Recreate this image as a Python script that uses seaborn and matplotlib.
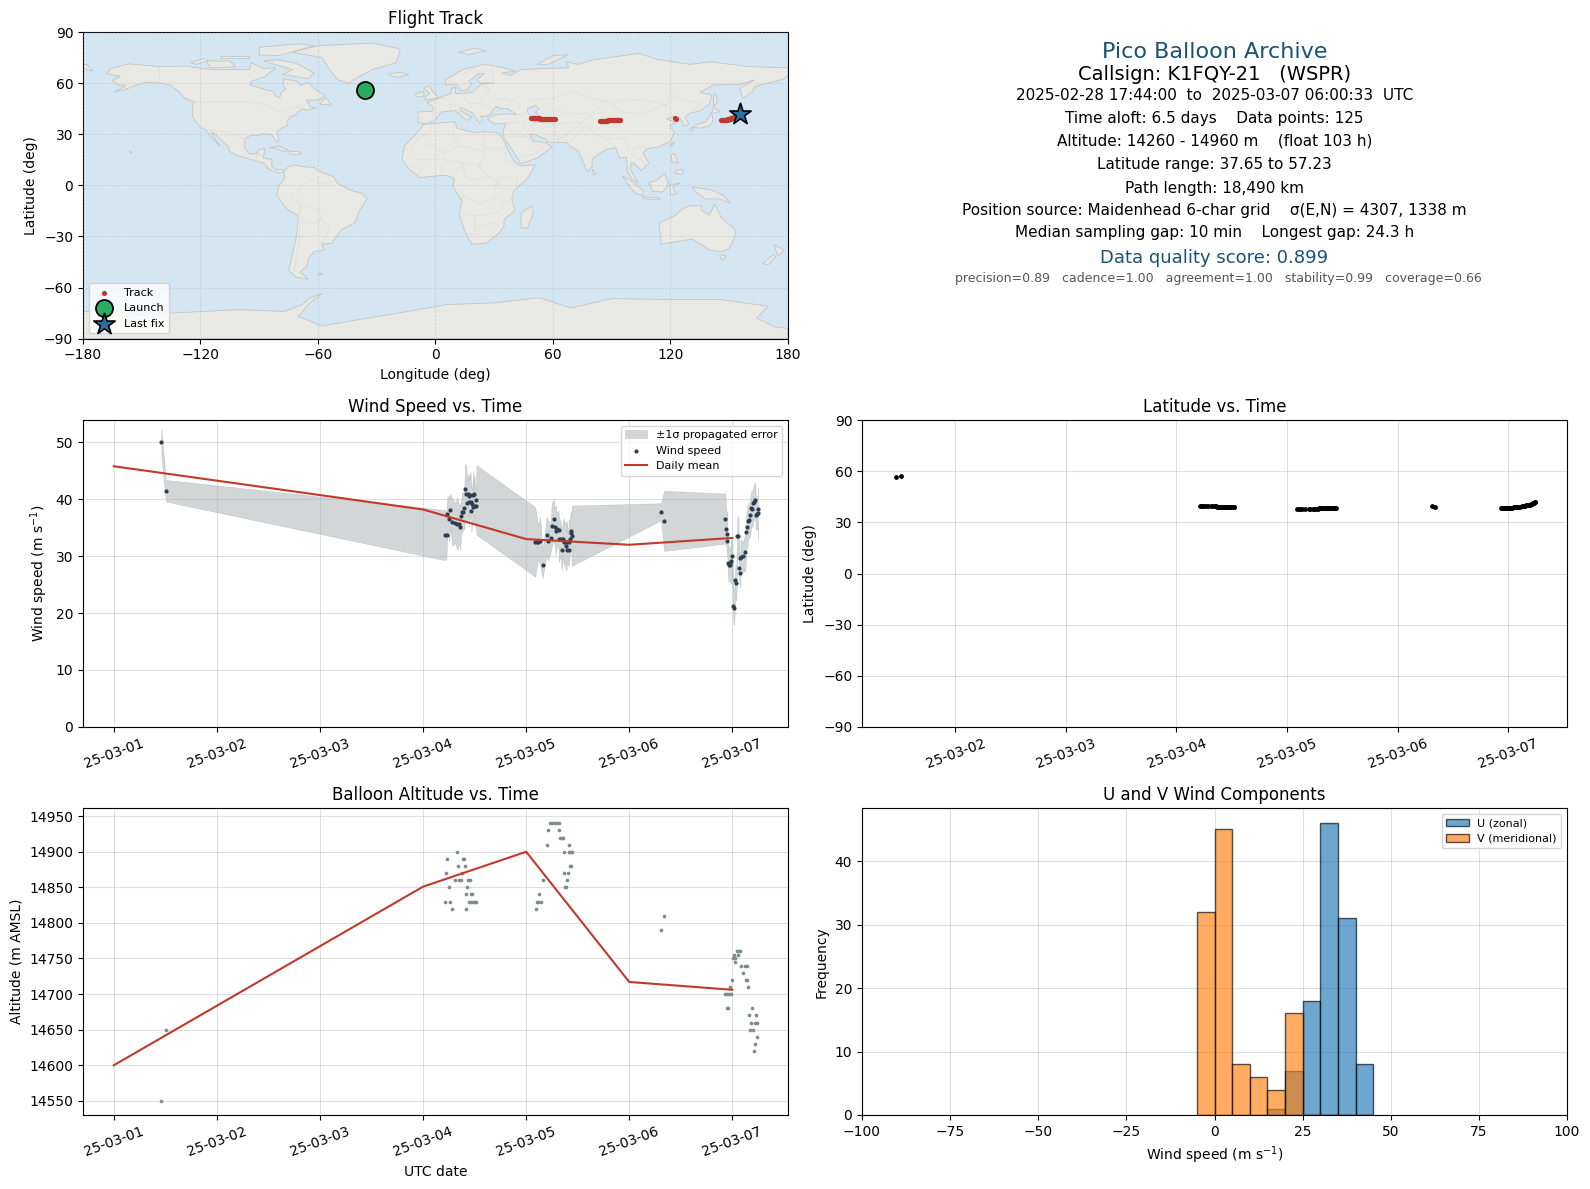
import numpy as np
import pandas as pd
import matplotlib
matplotlib.use("Agg")
import matplotlib.pyplot as plt
import matplotlib.dates as mdates
import seaborn as sns

# days after 2025-03-01 00:00
wind_day = [0.460, 0.505,
            3.211, 3.227, 3.234, 3.253, 3.263, 3.282, 3.312, 3.331, 3.351, 3.360,
            3.370, 3.380, 3.390, 3.399, 3.409, 3.419, 3.429, 3.438, 3.448, 3.448,
            3.458, 3.468, 3.468, 3.477, 3.487, 3.487, 3.497, 3.506, 3.516, 3.516,
            4.088, 4.107, 4.117, 4.136, 4.159, 4.198, 4.208, 4.237, 4.247, 4.266,
            4.276, 4.286, 4.295, 4.315, 4.315, 4.334, 4.344, 4.354, 4.364, 4.373,
            4.383, 4.393, 4.393, 4.412, 4.412, 4.422, 4.432, 4.438, 4.442,
            5.308, 5.338,
            5.932, 5.942, 5.951, 5.951, 5.961, 5.971, 5.981, 5.981, 5.990, 6.000,
            6.010, 6.019, 6.029, 6.039, 6.049, 6.058, 6.068, 6.078, 6.078, 6.088,
            6.107, 6.127, 6.136, 6.146, 6.156, 6.166, 6.175, 6.185, 6.195, 6.205,
            6.214, 6.224, 6.227, 6.237, 6.247, 6.247]
wind_speed = [50.0, 41.5,
              33.7, 33.7, 37.4, 36.6, 38.1, 36.0, 35.8, 35.7, 35.6, 35.1,
              37.1, 37.8, 37.8, 38.5, 41.8, 41.0, 39.4, 40.9, 39.5, 40.5,
              40.7, 39.5, 38.0, 39.1, 40.7, 38.7, 40.9, 38.8, 38.8, 39.9,
              32.5, 32.5, 32.4, 32.7, 28.5, 33.7, 32.7, 33.2, 35.3, 36.5,
              35.1, 34.5, 34.8, 34.6, 33.0, 33.0, 31.1, 33.0, 32.5, 32.5,
              31.8, 31.1, 32.5, 31.1, 32.5, 33.0, 34.5, 34.0, 33.6,
              37.8, 36.2,
              36.6, 34.8, 33.9, 32.7, 28.8, 28.4, 28.8, 28.5, 29.1, 30.0,
              21.2, 20.9, 25.8, 25.3, 33.6, 33.6, 28.0, 27.1, 29.7, 29.8,
              30.0, 30.8, 34.3, 35.2, 36.2, 36.3, 37.3, 38.5, 38.3, 39.3,
              39.6, 39.9, 37.3, 37.4, 38.3, 37.5]
wind_sigma = [2.4, 1.9,
              4.4, 4.2, 3.0, 4.0, 2.8, 4.2, 3.5, 4.6, 3.2, 4.0,
              3.0, 3.6, 3.0, 3.8, 4.4, 4.8, 3.4, 3.6, 4.2, 3.0,
              4.2, 3.4, 3.8, 3.0, 4.4, 3.2, 3.6, 3.8, 3.0, 6.1,
              6.1, 4.0, 3.0, 4.2, 2.4, 3.2, 3.6, 2.6, 3.8, 3.6,
              3.2, 4.4, 2.8, 3.4, 4.0, 3.0, 3.8, 2.6, 4.2, 3.0,
              4.4, 3.2, 3.6, 2.8, 4.0, 3.0, 3.4, 3.0, 5.3,
              1.5, 5.3,
              4.4, 3.0, 4.0, 2.6, 3.4, 2.6, 2.8, 3.0, 4.0, 2.6,
              3.0, 3.0, 2.6, 3.2, 3.6, 3.0, 2.8, 2.6, 3.2, 3.0,
              2.6, 3.4, 3.0, 3.6, 3.2, 3.0, 3.4, 3.0, 3.2, 3.0,
              3.2, 3.0, 2.6, 2.8, 2.6, 4.5]
track_lat = [56.6, 57.2,
             39.6, 39.6, 39.5, 39.5, 39.5, 39.5, 39.5, 39.4, 39.4, 39.4,
             39.3, 39.2, 39.2, 39.1, 39.0, 39.0, 39.0, 38.9, 38.9, 38.8,
             38.8, 38.8, 38.8, 38.8, 38.8, 38.8, 38.8, 38.8, 38.9, 38.9,
             37.7, 37.7, 37.7, 37.7, 37.8, 37.8, 37.7, 37.8, 37.9, 38.0,
             38.1, 38.2, 38.2, 38.2, 38.3, 38.3, 38.3, 38.3, 38.3, 38.3,
             38.3, 38.3, 38.3, 38.3, 38.3, 38.3, 38.3, 38.3, 38.3,
             39.6, 38.9,
             38.2, 38.2, 38.2, 38.2, 38.3, 38.3, 38.3, 38.3, 38.4, 38.4,
             38.5, 38.5, 38.6, 38.7, 38.8, 38.9, 39.0, 39.0, 39.1, 39.2,
             39.3, 39.4, 39.5, 39.7, 39.8, 40.0, 40.1, 40.3, 40.5, 40.7,
             40.9, 41.1, 41.3, 41.5, 41.7, 41.9]
track_lon = [-36.2, -35.7,
             49.0, 49.4, 49.8, 50.2, 50.6, 51.0, 51.4, 51.8, 52.2, 52.6,
             53.0, 53.4, 53.8, 54.2, 54.6, 55.0, 55.4, 55.8, 56.2, 56.6,
             57.0, 57.4, 57.8, 58.2, 58.6, 59.0, 59.4, 59.8, 60.4, 61.0,
             84.0, 84.4, 84.8, 85.2, 85.6, 86.0, 86.4, 86.8, 87.2, 87.6,
             88.0, 88.4, 88.8, 89.2, 89.6, 90.0, 90.4, 90.8, 91.2, 91.6,
             92.0, 92.3, 92.6, 92.9, 93.2, 93.4, 93.6, 93.8, 94.0,
             122.3, 123.0,
             146.0, 146.3, 146.6, 146.9, 147.1, 147.4, 147.6, 147.9, 148.1, 148.4,
             148.6, 148.9, 149.1, 149.4, 149.6, 149.9, 150.1, 150.4, 150.6, 150.9,
             151.1, 151.4, 151.6, 151.9, 152.1, 152.4, 152.6, 152.9, 153.1, 153.4,
             153.6, 153.9, 154.2, 154.6, 155.0, 155.3]

launch_lon, launch_lat = [-36.0], [56.1]
last_lon, last_lat = [155.3], [41.9]

mean_day = [0, 3, 4, 5, 6]
mean_wind = [45.8, 38.2, 33.0, 32.0, 33.2]
mean_alt = [14600, 14851, 14900, 14717, 14706]

alt_day = [0.460, 0.505,
           3.214, 3.224, 3.234, 3.253, 3.263, 3.282, 3.312, 3.331, 3.341, 3.351,
           3.370, 3.380, 3.390, 3.399, 3.409, 3.419, 3.419, 3.429, 3.438, 3.448,
           3.458, 3.468, 3.468, 3.477, 3.487, 3.506, 3.516,
           4.091, 4.101, 4.110, 4.120, 4.140, 4.159, 4.198, 4.208, 4.227, 4.247,
           4.276, 4.295, 4.315, 4.315, 4.325, 4.344, 4.354, 4.364, 4.364, 4.373,
           4.383, 4.393, 4.403, 4.412, 4.412, 4.422, 4.432, 4.432, 4.442,
           5.308, 5.338,
           5.932, 5.951, 5.951, 5.961, 5.971, 5.981, 5.990, 6.000, 6.010, 6.019,
           6.029, 6.029, 6.049, 6.058, 6.068, 6.078, 6.088, 6.107, 6.127, 6.136,
           6.146, 6.146, 6.156, 6.166, 6.175, 6.185, 6.195, 6.205, 6.214, 6.224,
           6.224, 6.234, 6.244, 6.244]
alt_m = [14550, 14650,
         14830, 14870, 14890, 14850, 14830, 14820, 14860, 14900, 14880, 14860,
         14860, 14870, 14890, 14890, 14880, 14840, 14820, 14850, 14860, 14830,
         14860, 14840, 14830, 14840, 14830, 14830, 14830,
         14820, 14830, 14830, 14840, 14830, 14860, 14910, 14930, 14940, 14940,
         14940, 14940, 14940, 14930, 14920, 14920, 14920, 14900, 14870, 14850,
         14850, 14860, 14870, 14910, 14900, 14880, 14900, 14880, 14900,
         14790, 14810,
         14700, 14700, 14680, 14680, 14700, 14710, 14700, 14720, 14750, 14755,
         14745, 14750, 14760, 14755, 14760, 14760, 14740, 14730, 14740, 14720,
         14720, 14740, 14710, 14670, 14650, 14660, 14680, 14650, 14620, 14660,
         14630, 14670, 14660, 14640]

hist_edges = [-5, 0, 5, 10, 15, 20, 25, 30, 35, 40, 45]
u_counts = [0, 0, 0, 0, 1, 7, 18, 46, 31, 8]
v_counts = [32, 45, 8, 6, 4, 16, 0, 0, 0, 0]

# rough hand traced coastlines (lon, lat)
north_america = [(-168, 65.5), (-166, 68.5), (-156.5, 71.3), (-141, 69.7), (-128, 70), (-115, 68), (-108, 68),
                 (-95, 68), (-94, 72), (-88, 68.5), (-81.5, 69), (-87, 64), (-94, 61), (-94.5, 58.8), (-88, 56.5),
                 (-82.5, 55), (-82, 52.5), (-79.5, 51.3), (-79, 54.5), (-76.5, 56.5), (-78, 59), (-77.5, 62.5),
                 (-71, 61.2), (-69, 58.8), (-65, 60.3), (-61, 56), (-56, 52.5), (-60, 50), (-66, 50), (-65, 48.5),
                 (-64, 46), (-61, 45.5), (-66, 44), (-67, 45), (-70, 43.5), (-70.5, 41.8), (-74, 40.5), (-76, 37),
                 (-75.5, 35.3), (-78, 33.9), (-81, 31.5), (-80, 26.5), (-81, 25.2), (-82.7, 28), (-84, 30),
                 (-89, 30.2), (-90, 29.2), (-94, 29.5), (-97.3, 27.5), (-97.7, 22.5), (-95, 18.5), (-91, 18.6),
                 (-90.4, 21), (-87, 21.5), (-88, 16), (-83.5, 15.2), (-83.6, 11), (-81, 8.8), (-79, 9.5), (-77.3, 8.5),
                 (-78, 7.4), (-80.5, 7.3), (-83, 8.2), (-85.7, 10), (-87.5, 13), (-92, 14.5), (-96, 15.8), (-101, 17.5),
                 (-105.5, 20), (-105.5, 22.5), (-109, 26), (-112.5, 30), (-114.7, 31.5), (-112.5, 27), (-109.8, 23),
                 (-112, 25), (-115, 29), (-117.2, 32.5), (-120.5, 34.5), (-124, 40), (-124, 47), (-123, 49), (-128, 51),
                 (-131, 55), (-135, 58.5), (-140, 60), (-148, 60.5), (-152, 59), (-158, 56.5), (-164, 54.7),
                 (-158, 58.5), (-162, 59), (-165, 61.5), (-161, 64)]
south_america = [(-77.3, 8.5), (-75, 11), (-72, 12), (-68, 11), (-62, 10.5), (-60, 8.5), (-52, 5), (-50, 1), (-44, -2.5),
                 (-37, -5), (-35, -8), (-39, -15), (-41, -22), (-48, -26), (-53, -34), (-58, -34.5), (-57, -38),
                 (-62, -39), (-65, -43), (-65.5, -47), (-69, -51), (-65, -55), (-71, -54), (-75, -50), (-73, -40),
                 (-71, -30), (-70, -18), (-76, -14), (-81, -6), (-80, 0), (-77, 4), (-77.5, 7.5)]
greenland = [(-73, 78), (-60, 82), (-32, 83.5), (-18, 80), (-20, 72), (-32, 68), (-42, 62), (-44, 59.8), (-50, 62),
             (-54, 68), (-58, 75)]
eurasia = [(-9, 37), (-9, 43), (-1.5, 43.5), (-1, 46), (-4.5, 48.5), (1.5, 51), (8, 54), (8, 57), (10.5, 57.5), (10, 54),
           (14, 54), (19, 54.5), (21, 57), (24, 59.5), (30, 60), (23, 60), (21, 62), (25, 65.5), (22, 65.5), (17, 61),
           (18.5, 59.5), (16, 56), (13, 55.5), (11, 59), (5, 59), (5, 62), (14, 68), (25, 71), (33, 69.5), (41, 67),
           (34, 66), (38, 64.5), (44, 68), (54, 68.5), (68, 69), (67, 72.5), (73, 71), (80, 73.5), (104, 77.5), (113, 74),
           (130, 71), (140, 72.5), (160, 69.7), (180, 69), (180, 65), (178, 62.5), (170, 60), (163, 58), (162, 55),
           (156.7, 51), (155.5, 57), (163, 62), (155, 59.2), (142, 59), (135, 54.5), (141, 53), (140, 48), (135, 43.5),
           (130, 42.5), (127.5, 39.8), (129.5, 36), (126.5, 34.5), (126, 37.5), (124.5, 40), (121.5, 39), (122, 40.7),
           (118, 39), (122.5, 37), (119.5, 35), (122, 31), (120, 26), (114, 22.5), (108, 21.5), (106, 19), (109, 13),
           (105, 8.7), (102, 12.5), (100, 13.5), (99.5, 9.5), (103.5, 1.5), (100.5, 3.5), (98, 8), (97.5, 16.5), (94, 16),
           (92, 22), (87, 21), (80, 15.5), (80, 11), (77.5, 8), (73, 20), (69, 22.5), (67, 25), (57, 25.5), (56.5, 27),
           (50, 30), (48, 30), (50, 26), (56, 25), (59.5, 22.5), (52, 16), (43.5, 12.7), (39, 21), (35, 28), (34.5, 31.5),
           (36, 36.5), (30, 36), (26.5, 39), (29, 41), (35, 42), (41.5, 41.5), (37, 45), (33, 45), (31, 46.5), (28, 42),
           (26, 40.5), (23, 40.5), (24, 38), (22.5, 36.5), (19.5, 41), (19, 42.5), (13, 45.7), (12.5, 44), (18.5, 40),
           (16, 38), (10, 44), (3, 43), (-0.5, 38), (-5, 36)]
africa = [(-6, 35.8), (10, 37.3), (11, 33.5), (20, 31), (25, 31.5), (32, 31), (34, 28), (37, 21), (39.5, 15), (43.3, 11.5),
          (51, 12), (47, 4), (40, -3), (39, -8), (40.5, -15), (35, -20), (35, -24), (32.5, -28), (26, -34), (18.5, -34.5),
          (15, -27), (12, -17), (13.5, -9), (9, -1), (9.5, 4), (5, 6), (-4, 5), (-8, 4.5), (-13, 9), (-17, 14.7), (-16, 23),
          (-10, 30)]
australia = [(114, -22), (122, -18), (126, -14), (130, -12), (136, -12), (136, -15), (140, -17.5), (142.5, -11), (146, -19),
             (153, -26), (153, -30), (150, -37), (146, -39), (140, -38), (136, -35), (131, -31.5), (124, -33), (115, -34.5),
             (115, -31)]
antarctica = [(-180, -74), (-150, -76), (-118, -74), (-100, -73), (-77, -74), (-68, -70), (-64, -66), (-58, -63.5),
              (-65, -70), (-70, -77), (-58, -82.6), (-35, -78), (-19, -75), (6, -70), (30, -69), (53, -66), (69, -72),
              (90, -66.5), (116, -67), (145, -67), (170, -71), (164, -78), (173, -83), (180, -84), (180, -90), (-180, -90)]
islands = [
    [(-5.5, 50), (1.5, 51.5), (0, 53.5), (-2, 56), (-3, 58.5), (-6, 57), (-3, 54), (-5, 52)],
    [(-10, 52), (-6, 52), (-6, 55), (-10, 54)],
    [(-24, 65.5), (-18, 66.3), (-13.5, 65), (-19, 63.5), (-22.5, 64)],
    [(44, -16), (49.5, -12), (50, -16), (47, -25), (44, -25), (43.5, -21)],
    [(130, 31.5), (131.8, 33), (130.8, 34), (129.8, 33)],
    [(131, 34), (135.5, 33.6), (140, 35), (141.5, 37), (141.5, 41), (140, 41), (138, 37.2), (133, 35.5)],
    [(140.5, 42), (145.5, 43.5), (142, 45.5), (141.5, 43.5)],
    [(142, 46), (144, 49), (143, 54), (142, 53), (142, 49)],
    [(120.5, 23), (122, 25), (121, 25), (120, 23.5)],
    [(120.5, 14), (124, 13), (122, 18.5), (120.5, 18)],
    [(122, 7), (126, 6.5), (126.5, 9.5), (123.5, 9)],
    [(95.5, 5.5), (100, 2.5), (106, -3), (106, -6), (102, -4.5), (98, 1)],
    [(105.5, -6.5), (114.5, -7.5), (114.5, -8.6), (106, -7.8)],
    [(109, 1.5), (113, 3), (117, 7), (119, 1), (116, -4), (111, -3.5)],
    [(119.5, 0), (125, 1.5), (121, -1), (123, -5), (120, -5.5)],
    [(131, -1), (141, -2.7), (147, -6), (150.5, -10.5), (145, -8), (138, -8), (133, -4)],
    [(173, -35), (178, -38), (175, -41.5), (174, -39)],
    [(172.5, -41), (174, -42), (170, -46.5), (167, -46), (170, -43)],
    [(145, -41), (148.2, -41), (147.5, -43.5), (146, -43.5)],
    [(80, 9.5), (82, 7), (80.5, 6)],
    [(-85, 22), (-80, 23), (-74.5, 20.3), (-78, 20), (-82, 22)],
    [(-74.5, 19.8), (-70, 19.8), (-68.5, 18.5), (-72, 18), (-74.5, 18.3)],
    [(-59, 47.7), (-56, 51.5), (-53, 47)],
    [(-80, 73.7), (-71, 71.5), (-62, 66), (-65, 62.5), (-72, 64), (-78, 65), (-73, 68), (-88, 73)],
    [(-117, 73), (-105, 73), (-102, 69.5), (-115, 69)],
    [(-125, 72), (-118, 74.5), (-116, 73.3), (-122, 71)],
    [(-90, 76.5), (-80, 76.2), (-62, 82), (-70, 83), (-90, 81)],
    [(-110, 76), (-95, 76), (-95, 74.5), (-110, 74.5)],
    [(12, 78), (20, 80.5), (26, 79), (17, 76.8)],
    [(52, 71), (57, 70.7), (68, 76.8), (60, 76)],
    [(-60, -51.5), (-58, -51.5), (-58, -52.3), (-60, -52.3)],
    [(-156, 20), (-155, 19.5), (-155.5, 19), (-156, 19.3)],
    [(-178, 71), (-180, 71), (-180, 68.5), (-175, 67)],
]
caspian = [(47, 45), (51, 47), (53, 45), (51, 43), (53.5, 40), (54, 37), (50, 37), (49, 40), (47, 43)]
border_lines = [
    [(-123, 49), (-95, 49), (-89, 48), (-82, 45), (-79, 43), (-75, 45), (-70, 46), (-67, 45)],
    [(-141, 60), (-141, 69.7)],
    [(-117, 32.5), (-106, 31.5), (-101, 29.5), (-97.3, 26)],
    [(-92, 14.5), (-91, 17.8), (-88, 18)],
    [(-70, -18), (-69, -11), (-74, -7), (-70, -4), (-67, 1.5), (-60, 5), (-60, 1), (-52, 2)],
    [(-69, -22), (-70, -35), (-72, -50), (-68.5, -52)],
    [(-58, -20), (-62, -22), (-66, -22), (-69, -18), (-69, -11), (-60, -14), (-58, -20)],
    [(-58, -34), (-54, -26), (-58, -20)],
    [(-9, 42), (-7, 37)], [(-1.5, 43), (3, 42.5)], [(3, 51), (8, 49), (7.5, 44)], [(14, 54), (15, 51), (17, 48), (22, 48), (29, 45.5)],
    [(24, 59.5), (28, 56), (24, 51), (22, 48)], [(28, 70), (30, 62), (28, 60)], [(14, 65), (20, 69)],
    [(30, 51), (40, 50), (37, 47)], [(48, 42), (41.5, 41.5)], [(47, 50), (60, 51), (70, 55), (80, 51), (87, 49.5)],
    [(87, 49.5), (98, 50), (108, 50), (118, 47), (120, 53), (127, 50), (135, 48), (131, 43)],
    [(87, 49.5), (96, 43), (105, 42), (118, 47)], [(54, 42), (61, 44), (70, 42), (80, 42), (87, 49.5)],
    [(54, 37), (62, 36), (71, 37), (75, 37), (80, 42)], [(61, 36), (61, 31), (63, 26)], [(46, 39), (45, 33), (48, 30)],
    [(36, 36.5), (42, 37), (45, 37)], [(35, 29), (47, 29)], [(39, 32), (46, 29), (52, 23), (56, 22)], [(43, 16), (52, 19), (55, 22)],
    [(62, 26), (67, 30), (71, 34), (75, 37)], [(68, 24), (71, 28), (74, 33), (78, 35)], [(78, 35), (81, 30), (88, 27), (97, 28)],
    [(97, 28), (98, 22), (101, 21), (105, 23), (108, 21.5)], [(92, 22), (89, 26)], [(101, 21), (100, 18), (105, 15), (107, 12)],
    [(25, 31.5), (25, 20), (24, 15), (22, 11), (27, 5), (31, 3.5), (35, 5), (42, 4), (41, -2)], [(25, 22), (37, 22)],
    [(10, 37), (9, 30), (12, 23), (15, 23), (24, 20)], [(-2, 35), (-2, 32), (-9, 27), (-13, 21), (-17, 21)],
    [(-5, 25), (4, 19), (12, 23)], [(-12, 15), (-5, 15), (4, 15), (14, 13), (24, 12)], [(-8, 5), (-8, 10), (-12, 12)],
    [(3, 6.5), (3, 12)], [(9, 4.5), (14, 13)], [(14, 13), (15, 5), (18, 3), (27, 5)], [(13, -5), (22, -11), (30, -8), (31, 3.5)],
    [(34, 4), (30, -1), (40, -3)], [(30, -8), (40, -11)], [(12, -17), (24, -18), (33, -15), (35, -11)], [(20, -18), (20, -29), (16, -28)],
    [(20, -25), (30, -22), (33, -25)], [(42, 12), (36, 14), (36, 22)],
]

ocean_color = "#d4e6f1"
land_color = "#e8e8e4"
base_date = pd.Timestamp("2025-03-01")


def to_dates(days):
    return base_date + pd.to_timedelta(np.array(days, dtype=float), unit="D")


def draw_land(ax, poly, face=land_color):
    xs, ys = zip(*poly)
    ax.fill(xs, ys, facecolor=face, edgecolor="#c6c6c4", linewidth=0.6, zorder=1)


def date_axis(ax, x0, x1):
    ax.set_xlim(to_dates([x0])[0], to_dates([x1])[0])
    ax.xaxis.set_major_locator(mdates.DayLocator())
    ax.xaxis.set_major_formatter(mdates.DateFormatter("%y-%m-%d"))
    ax.tick_params(axis="x", labelrotation=20)


fig, axes = plt.subplots(3, 2, figsize=(15.9, 11.89), dpi=100)
plt.subplots_adjust(left=83 / 1590, right=1567 / 1590, top=1 - 32 / 1189, bottom=1 - 1115 / 1189,
                    hspace=0.266, wspace=0.105)

# map
ax = axes[0, 0]
ax.set_facecolor(ocean_color)
for poly in [north_america, south_america, greenland, eurasia, africa, australia, antarctica] + islands:
    draw_land(ax, poly)
draw_land(ax, caspian, face=ocean_color)
for line in border_lines:
    xs, ys = zip(*line)
    ax.plot(xs, ys, color="#deded9", lw=0.5, zorder=1.5)
sns.scatterplot(x=track_lon, y=track_lat, ax=ax, s=14, color="#c0392b", linewidth=0, zorder=4, label="Track")
sns.scatterplot(x=launch_lon, y=launch_lat, ax=ax, s=150, color="#27ae60", edgecolor="black", linewidth=1.3, zorder=5, label="Launch")
sns.scatterplot(x=last_lon, y=last_lat, ax=ax, s=260, marker="*", color="#2471a3", edgecolor="black", linewidth=1.2, zorder=5, label="Last fix")
ax.set_xlim(-180, 180)
ax.set_ylim(-90, 90)
ax.set_xticks(range(-180, 181, 60))
ax.set_yticks(range(-90, 91, 30))
ax.grid(True, color="#9a9a9a", lw=0.5, ls="--", alpha=0.3, zorder=2)
ax.set_axisbelow(False)
ax.set_title("Flight Track", fontsize=12)
ax.set_xlabel("Longitude (deg)")
ax.set_ylabel("Latitude (deg)")
ax.legend(loc="lower left", fontsize=8)

# info panel
axes[0, 1].axis("off")
center_x = 1214.5 / 1590
info_lines = [
    (52, center_x, "Pico Balloon Archive", 16, "#1a5276"),
    (75, center_x, "Callsign: K1FQY-21   (WSPR)", 14, "black"),
    (95, center_x, "2025-02-28 17:44:00  to  2025-03-07 06:00:33  UTC", 11, "black"),
    (118, center_x, "Time aloft: 6.5 days    Data points: 125", 11, "black"),
    (141, center_x, "Altitude: 14260 - 14960 m    (float 103 h)", 11, "black"),
    (164, center_x, "Latitude range: 37.65 to 57.23", 11, "black"),
    (188, center_x, "Path length: 18,490 km", 11, "black"),
    (210, center_x, "Position source: Maidenhead 6-char grid    \u03c3(E,N) = 4307, 1338 m", 11, "black"),
    (233, center_x, "Median sampling gap: 10 min    Longest gap: 24.3 h", 11, "black"),
    (258, center_x, "Data quality score: 0.899", 13, "#1a5276"),
    (279, center_x + 4 / 1590, "precision=0.89   cadence=1.00   agreement=1.00   stability=0.99   coverage=0.66", 9, "#555555"),
]
for py, px, txt, size, col in info_lines:
    fig.text(px, 1 - py / 1189, txt, ha="center", va="center", fontsize=size, color=col)

# wind speed
ax = axes[1, 0]
wind_arr = np.array(wind_speed)
sig_arr = np.array(wind_sigma)
ax.fill_between(to_dates(wind_day), wind_arr - sig_arr, wind_arr + sig_arr, color="#7f8c8d", alpha=0.35, linewidth=0.4,
                label="\u00b11\u03c3 propagated error")
sns.scatterplot(x=to_dates(wind_day), y=wind_speed, ax=ax, s=9, color="#2c3e50", linewidth=0, zorder=3, label="Wind speed")
sns.lineplot(x=to_dates(mean_day), y=mean_wind, ax=ax, color="#c0392b", lw=1.5, zorder=4, label="Daily mean")
date_axis(ax, -0.30, 6.54)
ax.set_ylim(0, 53.9)
ax.grid(True, color="#b0b0b0", alpha=0.4)
ax.set_title("Wind Speed vs. Time", fontsize=12)
ax.set_ylabel("Wind speed (m s$^{-1}$)")
ax.set_xlabel("")
ax.legend(loc="upper right", fontsize=8)

# latitude
ax = axes[1, 1]
sns.scatterplot(x=to_dates(wind_day), y=track_lat, ax=ax, s=12, color="black", linewidth=0, zorder=3)
date_axis(ax, 0.155, 6.533)
ax.set_ylim(-90, 90)
ax.set_yticks(range(-90, 91, 30))
ax.grid(True, color="#b0b0b0", alpha=0.4)
ax.set_title("Latitude vs. Time", fontsize=12)
ax.set_ylabel("Latitude (deg)")
ax.set_xlabel("")

# altitude
ax = axes[2, 0]
sns.scatterplot(x=to_dates(alt_day), y=alt_m, ax=ax, s=7, color="#7f8c8d", linewidth=0, zorder=3)
sns.lineplot(x=to_dates(mean_day), y=mean_alt, ax=ax, color="#c0392b", lw=1.5, zorder=4)
date_axis(ax, -0.30, 6.54)
ax.set_ylim(14530, 14961)
ax.grid(True, color="#b0b0b0", alpha=0.4)
ax.set_title("Balloon Altitude vs. Time", fontsize=12)
ax.set_xlabel("UTC date")
ax.set_ylabel("Altitude (m AMSL)")

# U / V histogram
ax = axes[2, 1]
centers = (np.array(hist_edges[:-1]) + np.array(hist_edges[1:])) / 2
sns.histplot(x=centers, weights=u_counts, bins=hist_edges, ax=ax, color="tab:blue", alpha=0.65,
             edgecolor=(0, 0, 0, 0.65), linewidth=1, label="U (zonal)", zorder=2)
sns.histplot(x=centers, weights=v_counts, bins=hist_edges, ax=ax, color="tab:orange", alpha=0.65,
             edgecolor=(0, 0, 0, 0.65), linewidth=1, label="V (meridional)", zorder=3)
ax.set_xlim(-100, 100)
ax.set_ylim(0, 48.3)
ax.grid(True, color="#b0b0b0", alpha=0.4)
ax.set_axisbelow(True)
ax.set_title("U and V Wind Components", fontsize=12)
ax.set_xlabel("Wind speed (m s$^{-1}$)")
ax.set_ylabel("Frequency")
ax.legend(loc="upper right", fontsize=8)

fig.savefig("out.png", dpi=100)
